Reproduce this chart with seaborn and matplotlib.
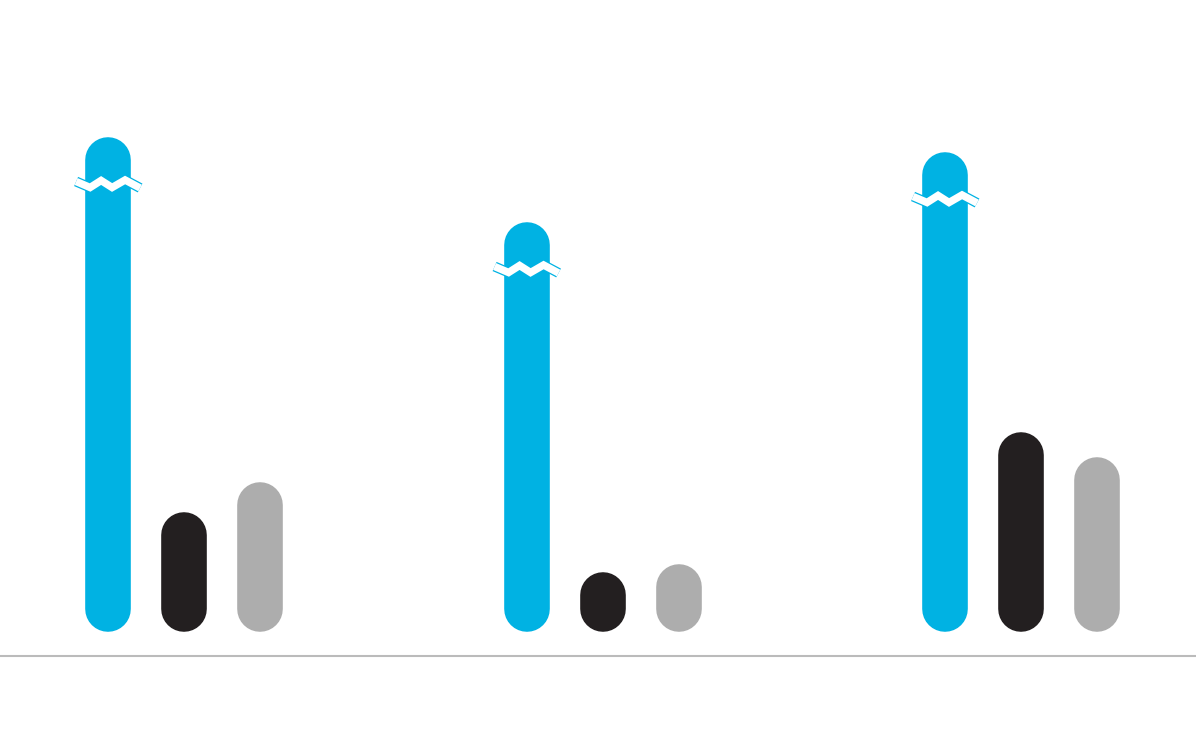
import numpy as np
import pandas as pd
import seaborn as sns
import matplotlib
matplotlib.use("Agg")
import matplotlib.pyplot as plt
import matplotlib.transforms as mtransforms

# --- data (arbitrary units; blue bars are broken) ---
groups = ["A", "B", "C"]
series = ["blue", "black", "gray"]
blue_values = [99.0, 82.0, 96.0]
black_values = [24.0, 12.0, 40.0]
gray_values = [30.0, 13.6, 35.0]
broken_series = "blue"

colors = {"blue": "#00B2E3", "black": "#231F20", "gray": "#ADADAD"}

rows = []
for i, g in enumerate(groups):
    rows.append({"group": g, "series": "blue", "value": blue_values[i]})
    rows.append({"group": g, "series": "black", "value": black_values[i]})
    rows.append({"group": g, "series": "gray", "value": gray_values[i]})
df = pd.DataFrame(rows)

# --- figure ---
sns.set_style("white")
W, H, DPI = 11.96, 7.40, 100
fig = plt.figure(figsize=(W, H), dpi=DPI)
ax = fig.add_axes([0, 84 / 740, 1, 656 / 740])

sns.barplot(data=df, x="group", y="value", hue="series", hue_order=series,
            palette=colors, width=0.545, gap=0.4, legend=False, ax=ax,
            errorbar=None, saturation=1)

ax.set_xlim(-0.44, 2.418)
ax.set_ylim(-4.8, 126.4)

# pixels per data unit
px_x = fig.bbox.width / (ax.get_xlim()[1] - ax.get_xlim()[0])
px_y = ax.bbox.height / (ax.get_ylim()[1] - ax.get_ylim()[0])

# swap the plain bars for pills: a thick line with round caps
bars = list(ax.patches)
tops = []
for p in bars:
    x, y, w, h = p.get_x(), p.get_y(), p.get_width(), p.get_height()
    fc = p.get_facecolor()
    p.remove()
    w_px = w * px_x
    r_y = (w_px / 2) / px_y
    cx = x + w / 2
    ax.plot([cx, cx], [y + r_y, y + h - r_y], color=fc, lw=w_px * 72 / DPI,
            solid_capstyle="round", zorder=2)
    tops.append((cx, y + h, fc))

# break marks on the blue bars (offsets in pixels -> inches)
zx = np.array([-32, -18, -7, 4, 17, 32]) / DPI
zy = -(47 + np.array([-2.5, 3.5, -3.5, 3.5, -4, 4])) / DPI
blue_rgba = matplotlib.colors.to_rgba(colors[broken_series])
for cx, top, fc in tops:
    if np.allclose(fc, blue_rgba):
        trans = fig.dpi_scale_trans + mtransforms.ScaledTranslation(cx, top, ax.transData)
        ax.plot(zx, zy, color=colors[broken_series], lw=7.2, transform=trans,
                solid_joinstyle="miter", solid_capstyle="butt", zorder=3, clip_on=False)
        ax.plot(zx, zy, color="white", lw=5.4, transform=trans,
                solid_joinstyle="miter", solid_capstyle="butt", zorder=4, clip_on=False)

# axes styling: only a grey baseline
sns.despine(ax=ax, left=True)
ax.spines["bottom"].set_color("#BBBBBB")
ax.spines["bottom"].set_linewidth(1.5)
ax.set_xticks([])
ax.set_yticks([])
ax.set_xlabel("")
ax.set_ylabel("")

fig.savefig("out.png", dpi=DPI, facecolor="white")
